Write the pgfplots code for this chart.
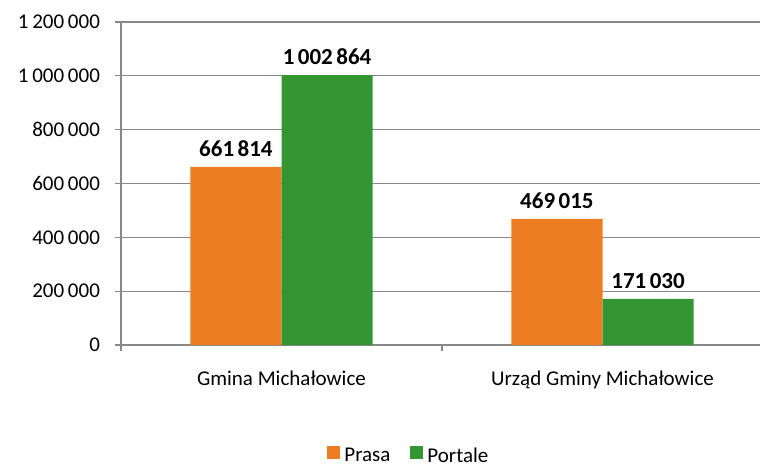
\documentclass[border=0pt]{standalone}
\usepackage{pgfplots}
\pgfplotsset{compat=1.18}
\usepackage{fontspec}
\setmainfont{Carlito}
\definecolor{prasa}{RGB}{236,125,34}
\definecolor{portale}{RGB}{51,150,51}
\definecolor{gridgray}{RGB}{136,136,136}
\begin{document}
\begin{tikzpicture}[font=\fontsize{10.5}{12.6}\selectfont]
\useasboundingbox (-60.5pt,-61.5pt) rectangle (319.5pt,172.5pt);
\begin{axis}[
    at={(0,0)}, anchor=south west,
    scale only axis,
    width=321pt, height=161.5pt,
    ybar=0pt,
    bar width=0.284,
    xmin=-0.5, xmax=1.5,
    ymin=0, ymax=1200000,
    ytick={0,200000,...,1200000},
    scaled y ticks=false,
    yticklabel style={xshift=-4pt, /pgf/number format/fixed, /pgf/number format/precision=0, /pgf/number format/1000 sep={\hspace{0.18em}}, /pgf/number format/assume math mode=true},
    xtick={-0.5,0.5,1.5},
    xticklabels={},
    extra x ticks={0,1},
    extra x tick labels={Gmina Michałowice, Urząd Gminy Michałowice},
    extra x tick style={major tick length=0pt, xticklabel style={yshift=-9.5pt}},
    axis x line*=bottom,
    axis y line*=left,
    axis line style={gridgray, line width=0.6pt},
    tick style={gridgray, line width=0.6pt},
    tick align=outside,
    major tick length=3pt,
    ymajorgrids=true,
    grid style={gridgray, line width=0.6pt},
    nodes near coords={\pgfmathprintnumber[fixed, precision=0, 1000 sep={\hspace{0.15em}}, assume math mode=true]{\pgfplotspointmeta}},
    every node near coord/.append style={font=\fontsize{11.5}{13.8}\selectfont\bfseries, yshift=1.5pt},
    legend style={at={(0.45,-0.345)}, anchor=center, draw=none, legend columns=2,
        /tikz/every even column/.append style={column sep=8pt}},
    legend image code/.code={\fill[#1] (0pt,-1.5pt) rectangle (6.5pt,5pt);},
]
\addplot[fill=prasa, draw=none] coordinates {(0,661814) (1,469015)};
\addplot[fill=portale, draw=none] coordinates {(0,1002864) (1,171030)};
\legend{Prasa, Portale}
\end{axis}
\end{tikzpicture}
\end{document}
